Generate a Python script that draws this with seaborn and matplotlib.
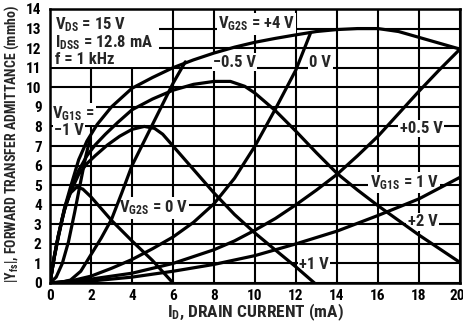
import matplotlib
matplotlib.use("Agg")
import matplotlib.pyplot as plt
import matplotlib.transforms as mtransforms
from matplotlib import font_manager
from matplotlib.patches import Rectangle
import pandas as pd
import seaborn as sns

# Forward transfer admittance |Yfs| (mmho) vs drain current ID (mA)
# Curves of constant gate-2 voltage (V_G2S)
g2_plus4_id = [0, 0.2, 0.4, 0.7, 1.0, 1.4, 1.8, 2.3, 3.0, 4.0, 5.0, 6.0, 7.0, 8.0, 9.0,
               10.0, 11.0, 12.0, 13.0, 14.0, 15.0, 16.0, 17.0, 18.0, 19.0, 20.0]
g2_plus4_y = [0, 1.3, 2.4, 3.8, 4.9, 6.3, 7.25, 8.1, 9.0, 9.95, 10.5, 11.0, 11.4, 11.75, 12.05,
              12.3, 12.5, 12.68, 12.85, 12.95, 13.0, 13.0, 12.85, 12.55, 12.25, 11.95]

g2_plus2_id = [0, 0.2, 0.4, 0.7, 1.0, 1.4, 1.8, 2.2, 2.7, 3.3, 4.0, 5.0, 6.0, 7.0, 8.0, 8.8,
               9.5, 10.0, 11.0, 12.0, 13.0, 14.0, 15.0, 16.0, 17.0, 18.0, 19.0, 20.0]
g2_plus2_y = [0, 1.3, 2.4, 3.75, 4.75, 5.75, 6.5, 7.05, 7.6, 8.2, 8.85, 9.4, 9.85, 10.15, 10.3, 10.3,
              10.05, 9.7, 8.8, 7.75, 6.65, 5.6, 4.75, 3.95, 3.2, 2.45, 1.75, 1.05]

g2_plus1_id = [0, 0.2, 0.4, 0.7, 1.0, 1.4, 1.8, 2.2, 2.8, 3.4, 4.0, 4.6, 5.1, 5.5, 6.0,
               7.0, 8.0, 9.0, 10.0, 11.0, 12.0, 12.9]
g2_plus1_y = [0, 1.3, 2.35, 3.7, 4.65, 5.55, 6.1, 6.5, 7.05, 7.5, 7.85, 8.0, 7.9, 7.6, 7.0,
              5.8, 4.6, 3.5, 2.55, 1.68, 0.82, 0]

g2_zero_id = [0, 0.2, 0.4, 0.6, 0.8, 1.0, 1.3, 1.6, 2.0, 3.0, 4.0, 5.0, 6.0]
g2_zero_y = [0, 1.25, 2.3, 3.3, 4.1, 4.6, 4.9, 4.8, 4.4, 3.2, 2.15, 1.15, 0]

# Curves of constant gate-1 voltage (V_G1S)
g1_minus1_id = [0, 0.3, 0.6, 0.9, 1.2, 1.5, 1.75, 1.95]
g1_minus1_y = [0, 0.3, 1.0, 2.1, 3.6, 5.2, 6.5, 7.35]

g1_minus05_id = [0, 0.5, 1.0, 1.5, 2.0, 2.5, 3.0, 3.5, 4.0, 4.5, 5.0, 5.5, 6.0, 6.6]
g1_minus05_y = [0, 0.03, 0.15, 0.6, 1.45, 2.3, 3.25, 4.6, 6.0, 7.05, 8.1, 9.15, 10.2, 11.3]

g1_zero_id = [0, 1, 2, 3, 4, 5, 6, 7, 8, 9, 10, 11, 12, 12.7]
g1_zero_y = [0, 0.1, 0.35, 0.75, 1.2, 1.75, 2.35, 3.1, 4.05, 5.35, 7.0, 8.9, 10.9, 12.75]

g1_plus05_id = [0, 2, 4, 6, 8, 9, 10, 11, 12, 13, 14, 15, 16, 17, 18, 19, 20]
g1_plus05_y = [0, 0.2, 0.5, 1.0, 1.7, 2.15, 2.7, 3.3, 4.0, 4.75, 5.55, 6.5, 7.5, 8.65, 9.8, 10.9, 11.95]

g1_plus1_id = [0, 2, 4, 6, 8, 10, 12, 14, 16, 18, 20]
g1_plus1_y = [0, 0.1, 0.3, 0.6, 0.95, 1.4, 2.0, 2.65, 3.45, 4.3, 5.4]

x_ticks = list(range(0, 21, 2))
y_ticks = list(range(0, 15))

curves = {
    "VG2S=+4V": (g2_plus4_id, g2_plus4_y),
    "VG2S=+2V": (g2_plus2_id, g2_plus2_y),
    "VG2S=+1V": (g2_plus1_id, g2_plus1_y),
    "VG2S=0V": (g2_zero_id, g2_zero_y),
    "VG1S=-1V": (g1_minus1_id, g1_minus1_y),
    "VG1S=-0.5V": (g1_minus05_id, g1_minus05_y),
    "VG1S=0V": (g1_zero_id, g1_zero_y),
    "VG1S=+0.5V": (g1_plus05_id, g1_plus05_y),
    "VG1S=+1V": (g1_plus1_id, g1_plus1_y),
}
frames = []
for name, (xs, ys) in curves.items():
    frames.append(pd.DataFrame({"ID": xs, "Yfs": ys, "curve": name}))
df = pd.concat(frames, ignore_index=True)

sns.set_theme(style="white")
available = {f.name for f in font_manager.fontManager.ttflist}
family = next((f for f in ["Liberation Sans Narrow", "Roboto Condensed", "DejaVu Sans"]
               if f in available), "DejaVu Sans")
plt.rcParams["font.family"] = [family, "DejaVu Sans"]
plt.rcParams["font.weight"] = "bold"
plt.rcParams["mathtext.fontset"] = "custom"
plt.rcParams["mathtext.rm"] = f"{family}:bold"
plt.rcParams["mathtext.it"] = f"{family}:bold"
plt.rcParams["mathtext.bf"] = f"{family}:bold"
plt.rcParams["mathtext.default"] = "rm"

W, H = 464, 324
fig = plt.figure(figsize=(W / 100, H / 100), dpi=100)
ax = fig.add_axes([50 / W, 1 - 283 / H, 410 / W, 274 / H])

sns.lineplot(data=df, x="ID", y="Yfs", units="curve", estimator=None, sort=False,
             color="black", lw=2.3, ax=ax, legend=False, zorder=3,
             solid_capstyle="round", solid_joinstyle="round")

ax.set_xlim(0, 20)
ax.set_ylim(0, 14)
ax.set_xticks(x_ticks)
ax.set_yticks(y_ticks)
ax.set_xticklabels([str(v) for v in x_ticks])
ax.set_yticklabels([str(v) for v in y_ticks])
ax.set_axisbelow(True)
ax.grid(True, color="black", lw=1.5)
ax.tick_params(axis="both", length=0, labelsize=11, colors="black")
ax.tick_params(axis="x", pad=4)
ax.tick_params(axis="y", pad=6)
for lab in ax.get_xticklabels() + ax.get_yticklabels():
    lab.set_fontweight("bold")
# keep the last drain-current label inside the canvas
last = ax.get_xticklabels()[-1]
last.set_transform(last.get_transform() + mtransforms.ScaledTranslation(-3 / 100, 0, fig.dpi_scale_trans))
for sp in ax.spines.values():
    sp.set_color("black")
    sp.set_linewidth(1.8)
    sp.set_visible(True)
ax.set_xlabel("")
ax.set_ylabel("")

# Test-conditions panel in the upper-left corner
ax.add_patch(Rectangle((0, 11.06), 5.3, 3.0, facecolor="white", edgecolor="none", zorder=1.5))
cond_kw = dict(fontsize=12, fontweight="bold", va="baseline", ha="left", zorder=4)
ax.text(0.25, 12.95, r"V$_{\mathrm{DS}}$ = 15 V", **cond_kw)
ax.text(0.25, 12.05, r"I$_{\mathrm{DSS}}$ = 12.8 mA", **cond_kw)
ax.text(0.25, 11.2, "f = 1 kHz", **cond_kw)

# Curve labels on white patches
box = dict(facecolor="white", edgecolor="none", pad=1.0)
lab_kw = dict(fontsize=12, fontweight="bold", va="baseline", ha="left", zorder=2, bbox=box)
labels = [
    (r"V$_{\mathrm{G2S}}$ = +4 V", 8.2, 13.0),
    ("\u22120.5 V", 7.95, 11.05),
    ("0 V", 12.65, 11.05),
    ("+0.5 V", 17.05, 7.67),
    (r"V$_{\mathrm{G1S}}$ = 1 V", 15.6, 4.9),
    ("+2 V", 17.45, 2.9),
    ("+1 V", 12.15, 0.7),
    (r"V$_{\mathrm{G2S}}$ = 0 V", 3.35, 3.6),
    (r"V$_{\mathrm{G1S}}$ =", 0.12, 8.4),
    ("\u22121 V", 0.2, 7.57),
]
for txt, x, y in labels:
    ax.text(x, y, txt, **lab_kw)

fig.text(255 / W, 1 - 312 / H, r"I$_{\mathrm{D}}$, DRAIN CURRENT (mA)",
         ha="center", va="center", fontsize=12.5, fontweight="bold")
fig.text(12 / W, 1 - 144 / H, r"|Y$_{\mathrm{fs}}$|, FORWARD TRANSFER ADMITTANCE (mmho)",
         ha="center", va="center", rotation=90, fontsize=10, fontweight="bold")

fig.savefig("out.png", dpi=100, facecolor="white")
